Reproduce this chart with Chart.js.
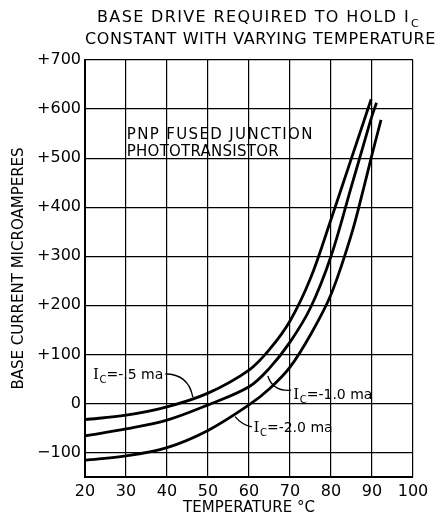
<!DOCTYPE html>
<html>
<head>
<meta charset="utf-8">
<script src="https://cdn.jsdelivr.net/npm/chart.js@4.4.1/dist/chart.umd.min.js"></script>
<style>
  html, body { margin: 0; padding: 0; background: #ffffff; }
  canvas { display: block; }
</style>
</head>
<body>
<canvas id="c" width="438" height="517"></canvas>
<script>
// ---- data ----
const temps05 = [20, 30, 40, 50, 60, 65, 70, 75, 80, 85, 88, 89.8];
const base05  = [-33, -24, -7, 21, 68, 110, 168, 255, 375, 500, 575, 620];

const temps10 = [20, 30, 40, 50, 60, 65, 70, 75, 80, 85, 88, 90, 91.1];
const base10  = [-66, -52, -34, -3, 34, 72, 125, 195, 300, 443, 529, 586, 613];

const temps20 = [20, 30, 40, 50, 60, 65, 70, 75, 80, 85, 88, 90, 92.2];
const base20  = [-116, -107, -90, -55, -3, 30, 74, 140, 222, 345, 440, 507, 578];

const yTickValues = [-100, 0, 100, 200, 300, 400, 500, 600, 700];
const yTickLabels = ['\u2212100', '0', '+100', '+200', '+300', '+400', '+500', '+600', '+700'];
const xTickValues = [20, 30, 40, 50, 60, 70, 80, 90, 100];
const xTickLabels = ['20', '30', '40', '50', '60', '70', '80', '90', '100'];

const titleLine1 = 'BASE DRIVE REQUIRED TO HOLD I';
const titleSub = 'C';
const titleLine2 = 'CONSTANT WITH VARYING TEMPERATURE';
const noteLines = ['PNP FUSED JUNCTION', 'PHOTOTRANSISTOR'];
const curveLabels = ['=-.5 ma', '=-1.0 ma', '=-2.0 ma'];

function pts(xs, ys) { return xs.map((x, i) => ({ x: x, y: ys[i] })); }

const FONT = '"DejaVu Sans", sans-serif';

function fitText(ctx, text, x0, x1, y) {
  ctx.letterSpacing = '0px';
  const w = ctx.measureText(text).width;
  const sp = (x1 - x0 - w) / (text.length);
  ctx.letterSpacing = sp.toFixed(2) + 'px';
  ctx.fillText(text, x0, y);
  const end = x0 + ctx.measureText(text).width;
  ctx.letterSpacing = '0px';
  return end;
}

function drawIc(ctx, x, y, rest) {
  ctx.textBaseline = 'middle';
  ctx.textAlign = 'left';
  ctx.font = '15px "DejaVu Serif", serif';
  ctx.fillText('I', x, y);
  let cx = x + ctx.measureText('I').width + 0.5;
  ctx.font = '10px ' + FONT;
  ctx.fillText('C', cx, y + 5);
  cx += ctx.measureText('C').width;
  ctx.font = '14px ' + FONT;
  ctx.fillText(rest, cx, y);
}

const annot = {
  id: 'annot',
  afterDraw(chart) {
    const ctx = chart.ctx;
    const xs = chart.scales.x, ys = chart.scales.y;
    const px = v => xs.getPixelForValue(v);
    const py = v => ys.getPixelForValue(v);
    ctx.save();
    ctx.fillStyle = '#000';
    ctx.strokeStyle = '#000';
    // title
    ctx.textBaseline = 'middle';
    ctx.textAlign = 'left';
    ctx.font = '16px ' + FONT;
    const e1 = fitText(ctx, titleLine1, 97, 410, 18);
    ctx.font = '11px ' + FONT;
    ctx.fillText(titleSub, e1 + 1, 24);
    ctx.font = '16px ' + FONT;
    fitText(ctx, titleLine2, 85, 436, 40);

    // note text
    ctx.font = '15px ' + FONT;
    fitText(ctx, noteLines[0], px(30.2), px(30.2) + 187, py(547));
    fitText(ctx, noteLines[1], px(30.2), px(30.2) + 152, py(512));

    // curve labels
    drawIc(ctx, px(21.95), py(57), curveLabels[0]);
    drawIc(ctx, px(70.8), py(17), curveLabels[1]);
    drawIc(ctx, px(61.1), py(-50), curveLabels[2]);

    // pointers
    ctx.lineWidth = 1.3;
    ctx.beginPath();
    ctx.moveTo(px(39.6), py(60));
    ctx.quadraticCurveTo(px(45.2), py(60), px(46.3), py(13));
    ctx.stroke();
    ctx.beginPath();
    ctx.moveTo(px(70.3), py(27));
    ctx.quadraticCurveTo(px(65.8), py(24), px(64.6), py(56));
    ctx.stroke();
    ctx.beginPath();
    ctx.moveTo(px(60.7), py(-48));
    ctx.quadraticCurveTo(px(58.3), py(-44), px(56.6), py(-27));
    ctx.stroke();
    ctx.restore();
  }
};

const lineStyle = {
  borderColor: '#000',
  borderWidth: 2.8,
  pointRadius: 0,
  fill: false,
  tension: 0.35
};

new Chart(document.getElementById('c'), {
  type: 'line',
  data: {
    datasets: [
      Object.assign({ label: 'IC = -.5 ma', data: pts(temps05, base05) }, lineStyle),
      Object.assign({ label: 'IC = -1.0 ma', data: pts(temps10, base10) }, lineStyle),
      Object.assign({ label: 'IC = -2.0 ma', data: pts(temps20, base20) }, lineStyle)
    ]
  },
  options: {
    responsive: false,
    devicePixelRatio: 1,
    animation: false,
    layout: { padding: { top: 60, right: 25, bottom: 0, left: 0 } },
    plugins: {
      legend: { display: false },
      tooltip: { enabled: false },
      title: { display: false }
    },
    scales: {
      x: {
        type: 'linear',
        min: 20, max: 100,
        afterFit(s) { s.height = 40; },
        afterBuildTicks(s) { s.ticks = xTickValues.map(v => ({ value: v })); },
        ticks: {
          padding: 5,
          color: '#000',
          font: { family: FONT, size: 16 },
          maxRotation: 0,
          callback: (v) => xTickLabels[xTickValues.indexOf(v)]
        },
        grid: { color: '#000', lineWidth: 1.2, drawTicks: false },
        border: { color: '#000', width: 2 },
        title: {
          display: true,
          text: 'TEMPERATURE \u00B0C',
          color: '#000',
          font: { family: FONT, size: 15 },
          padding: { top: 0, bottom: 0 }
        }
      },
      y: {
        type: 'linear',
        min: -150, max: 700,
        afterFit(s) { s.width = 85; },
        afterBuildTicks(s) { s.ticks = yTickValues.map(v => ({ value: v })); },
        ticks: {
          padding: 4,
          color: '#000',
          font: { family: FONT, size: 16 },
          callback: (v) => yTickLabels[yTickValues.indexOf(v)]
        },
        grid: { color: '#000', lineWidth: 1.2, drawTicks: false },
        border: { color: '#000', width: 2 },
        title: {
          display: true,
          text: 'BASE CURRENT MICROAMPERES',
          color: '#000',
          font: { family: FONT, size: 15 },
          padding: { top: 10, bottom: 0 }
        }
      }
    }
  },
  plugins: [annot]
});
</script>
</body>
</html>
